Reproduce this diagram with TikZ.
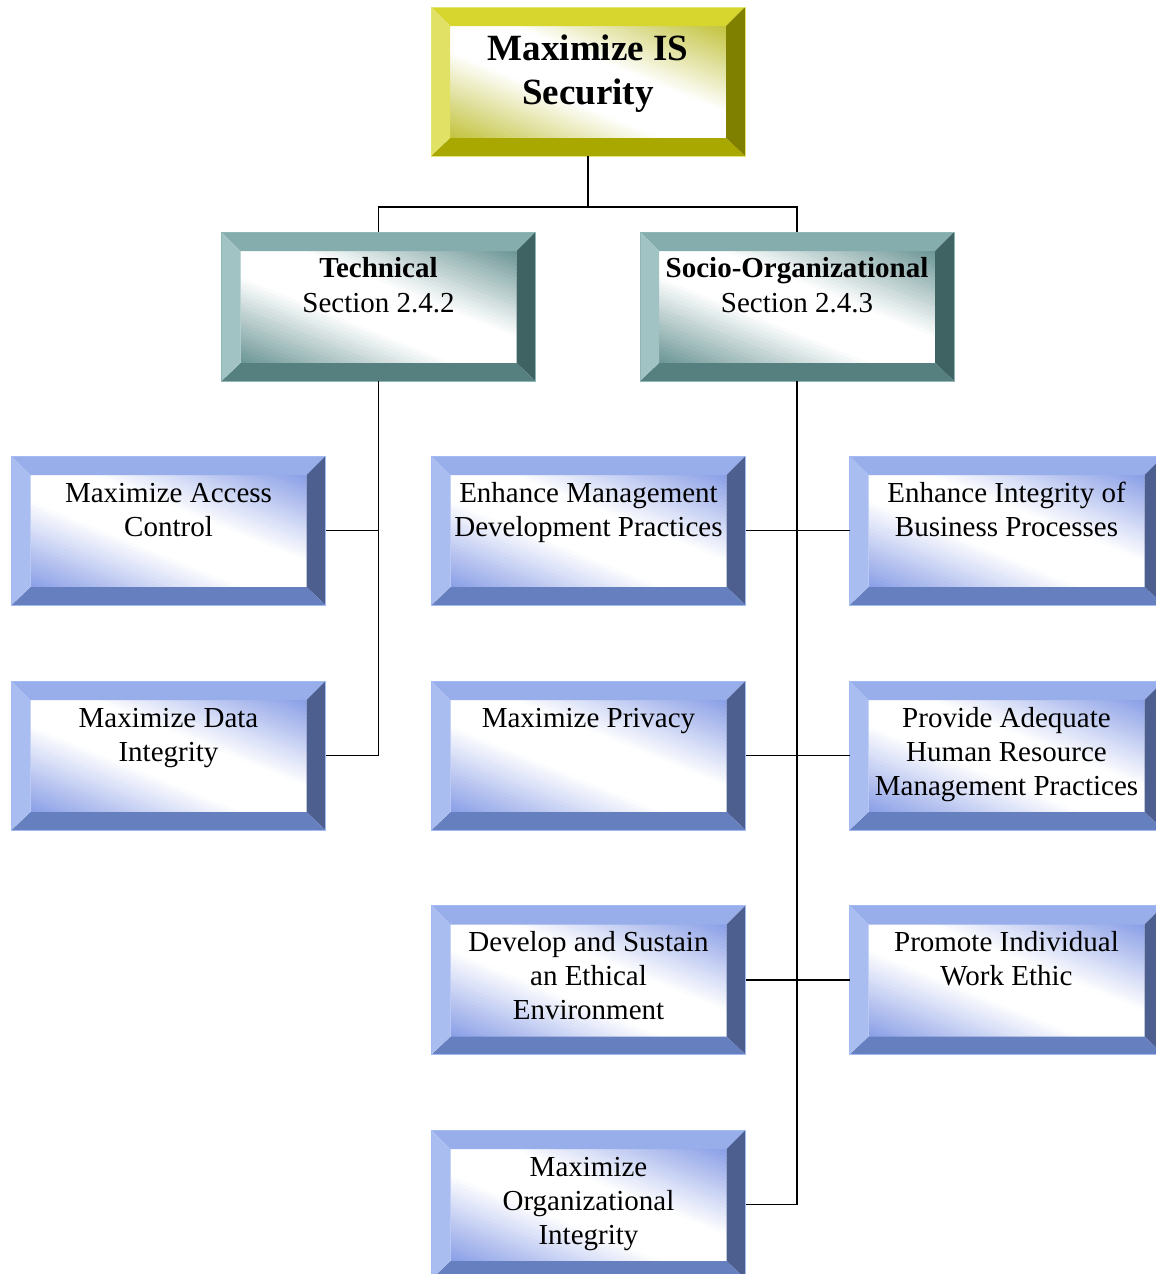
\documentclass[tikz,border=0pt]{standalone}
\usepackage{fontspec}
\setmainfont{Liberation Serif}
\usetikzlibrary{calc}

% bevel palettes: T top, L left, B bottom, R right, I inner tint, O outline
\definecolor{yelT}{HTML}{D6D62E}
\definecolor{yelL}{HTML}{E1E166}
\definecolor{yelB}{HTML}{A8A800}
\definecolor{yelR}{HTML}{808000}
\definecolor{yelI}{HTML}{C2C23C}
\definecolor{yelO}{HTML}{E4E470}
\definecolor{tlT}{HTML}{86ADAD}
\definecolor{tlL}{HTML}{A1C3C3}
\definecolor{tlB}{HTML}{567F7F}
\definecolor{tlR}{HTML}{3F6262}
\definecolor{tlI}{HTML}{6A9494}
\definecolor{tlO}{HTML}{8FB6B6}
\definecolor{blT}{HTML}{97AEEB}
\definecolor{blL}{HTML}{AABDF1}
\definecolor{blB}{HTML}{6680BF}
\definecolor{blR}{HTML}{4D5F8F}
\definecolor{blI}{HTML}{889DE6}
\definecolor{blO}{HTML}{A3BAF2}

\colorlet{curT}{blT}\colorlet{curL}{blL}\colorlet{curB}{blB}
\colorlet{curR}{blR}\colorlet{curI}{blI}\colorlet{curO}{blO}

% text block: fixed-size box, lines hanging from a given first baseline
\newcommand{\boxlines}[2]{\parbox[c][149pt][t]{314pt}{\centering\rule{0pt}{#1}#2}}

\tikzset{
  fam/.code={\colorlet{curT}{#1T}\colorlet{curL}{#1L}\colorlet{curB}{#1B}%
             \colorlet{curR}{#1R}\colorlet{curI}{#1I}\colorlet{curO}{#1O}},
  bevbox/.style={rectangle, inner sep=0pt, outer sep=0pt,
    minimum width=314pt, minimum height=149pt,
    draw=curO, line width=0.8pt,
    path picture={
      \path (path picture bounding box.south west) coordinate (qSW)
            (path picture bounding box.north east) coordinate (qNE);
      \coordinate (qNW) at (qSW|-qNE);
      \coordinate (qSE) at (qNE|-qSW);
      \coordinate (iNW) at ($(qNW)+(19pt,-19pt)$);
      \coordinate (iNE) at ($(qNE)+(-19pt,-19pt)$);
      \coordinate (iSE) at ($(qSE)+(-19pt,18pt)$);
      \coordinate (iSW) at ($(qSW)+(19pt,18pt)$);
      % inner face: white along one diagonal, tinted towards the two far corners
      \begin{scope}
        \clip (iNW) rectangle (iSE);
        \foreach \k in {0,...,59}{
          \pgfmathsetmacro{\bxa}{(2*\k/60+1)*276}
          \pgfmathsetmacro{\bya}{(2*\k/60+1)*112}
          \pgfmathsetmacro{\bxb}{(2*(\k+1.3)/60+1)*276}
          \pgfmathsetmacro{\byb}{(2*(\k+1.3)/60+1)*112}
          \pgfmathtruncatemacro{\btint}{100*max(0,(abs((\k+0.5)/60-0.5)-0.11)/0.39)}
          \fill[curI!\btint!white]
            ($(iSW)+(\bxa pt,-112pt)$) -- ($(iSW)+(-276pt,\bya pt)$) --
            ($(iSW)+(-276pt,\byb pt)$) -- ($(iSW)+(\bxb pt,-112pt)$) -- cycle;
        }
      \end{scope}
      % bevel faces
      \fill[curT] (qNW) -- (qNE) -- (iNE) -- (iNW) -- cycle;
      \fill[curR] (qNE) -- (qSE) -- (iSE) -- (iNE) -- cycle;
      \fill[curB] (qSE) -- (qSW) -- (iSW) -- (iSE) -- cycle;
      \fill[curL] (qSW) -- (qNW) -- (iNW) -- (iSW) -- cycle;
    }},
  goalfont/.style={font=\fontsize{37}{44}\selectfont\bfseries},
  areafont/.style={font=\fontsize{29}{35}\selectfont},
  itemfont/.style={font=\fontsize{29}{34}\selectfont},
  link/.style={draw=black, line width=1.8pt}
}

\begin{document}
\begin{tikzpicture}[x=1pt, y=-1pt]
\useasboundingbox (0,0) rectangle (1156,1274);
\clip (0,0) rectangle (1156,1274);

% goal
\node[fam=yel, bevbox, goalfont] (goal) at (588,81.5)
  {\boxlines{53pt}{Maximize IS\\Security}};

% areas
\node[fam=tl, bevbox, areafont] (tech) at (378.5,306.5)
  {\boxlines{45pt}{\textbf{Technical}\\Section 2.4.2}};
\node[fam=tl, bevbox, areafont] (socio) at (797,306.5)
  {\boxlines{45pt}{\textbf{Socio-Organizational}\\Section 2.4.3}};

% technical objectives
\node[fam=bl, bevbox, itemfont] (mac) at (168.5,530.5)
  {\boxlines{46pt}{Maximize Access\\Control}};
\node[fam=bl, bevbox, itemfont] (mdi) at (168.5,755.5)
  {\boxlines{46pt}{Maximize Data\\Integrity}};

% socio-organizational objectives
\node[fam=bl, bevbox, itemfont] (emdp) at (588.5,530.5)
  {\boxlines{46pt}{Enhance Management\\Development Practices}};
\node[fam=bl, bevbox, itemfont] (eibp) at (1006.5,530.5)
  {\boxlines{46pt}{Enhance Integrity of\\Business Processes}};
\node[fam=bl, bevbox, itemfont] (mp) at (588.5,755.5)
  {\boxlines{46pt}{Maximize Privacy}};
\node[fam=bl, bevbox, itemfont] (pahr) at (1006.5,755.5)
  {\boxlines{46pt}{Provide Adequate\\Human Resource\\Management Practices}};
\node[fam=bl, bevbox, itemfont] (dse) at (588.5,980)
  {\boxlines{46pt}{Develop and Sustain\\an Ethical\\Environment}};
\node[fam=bl, bevbox, itemfont] (piwe) at (1006.5,980)
  {\boxlines{46pt}{Promote Individual\\Work Ethic}};
\node[fam=bl, bevbox, itemfont] (moi) at (588.5,1204.5)
  {\boxlines{46pt}{Maximize\\Organizational\\Integrity}};

% tree connectors
\coordinate (split) at (588,207);
\draw[link] (goal.south) -- (split);
\draw[link] (split) -| (tech.north);
\draw[link] (split) -| (socio.north);

\draw[link] (tech.south) |- (mac.east);
\draw[link] (tech.south) |- (mdi.east);

\draw[link] (socio.south) |- (moi.east);
\draw[link] (socio.south) |- (emdp.east);
\draw[link] (socio.south) |- (eibp.west);
\draw[link] (socio.south) |- (mp.east);
\draw[link] (socio.south) |- (pahr.west);
\draw[link] (socio.south) |- (dse.east);
\draw[link] (socio.south) |- (piwe.west);
\end{tikzpicture}
\end{document}
